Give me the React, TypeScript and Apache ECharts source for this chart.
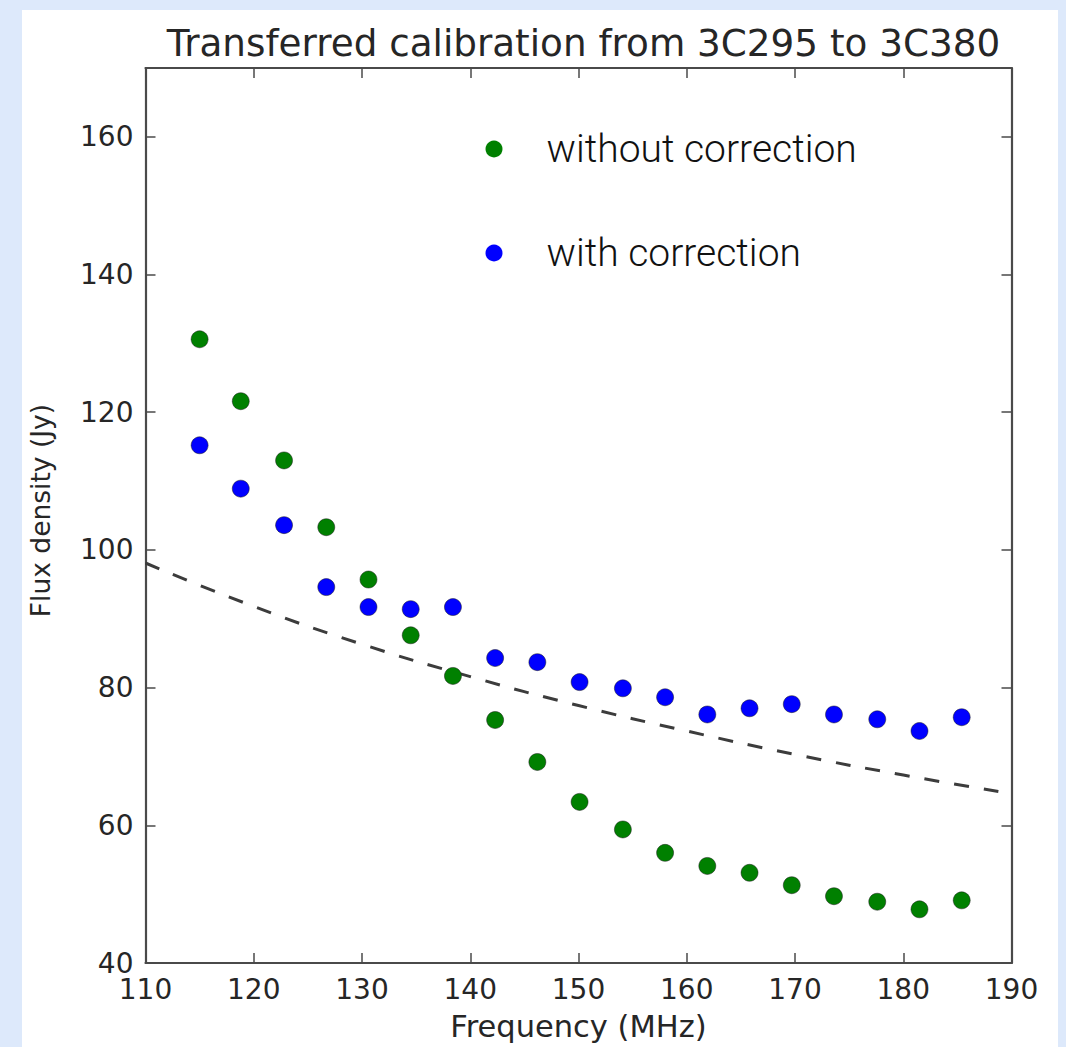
import React, { useEffect, useRef } from "react";
import * as echarts from "echarts";

const frequencies = [115.0, 118.8, 122.8, 126.7, 130.6, 134.5, 138.4, 142.3, 146.2, 150.1, 154.1, 158.0, 161.9, 165.8, 169.7, 173.6, 177.6, 181.5, 185.4];
const withoutCorrection = [130.6, 121.6, 113.0, 103.3, 95.7, 87.6, 81.7, 75.3, 69.2, 63.4, 59.4, 56.0, 54.1, 53.1, 51.3, 49.7, 48.9, 47.8, 49.1];
const withCorrection = [115.2, 108.9, 103.6, 94.6, 91.7, 91.4, 91.7, 84.3, 83.7, 80.8, 79.9, 78.6, 76.1, 77.0, 77.6, 76.1, 75.4, 73.7, 75.7];
const modelFreq = [110, 120, 130, 140, 150, 160, 170, 180, 190];
const modelFlux = [98.1, 91.8, 86.3, 81.6, 77.4, 73.7, 70.3, 67.3, 64.6];

const TITLE = "Transferred calibration from 3C295 to 3C380";
const X_NAME = "Frequency (MHz)";
const Y_NAME = "Flux density (Jy)";
const LEGEND = ["without correction", "with correction"];

const DV = "DejaVu Sans";
const AXIS_COLOR = "#4a4a4a";
const TEXT_COLOR = "#262626";

export default function App() {
  const ref = useRef<HTMLDivElement>(null);
  useEffect(() => {
    if (!ref.current) return;
    const chart = echarts.init(ref.current, null, { renderer: "svg" });
    const gridLeft = 145.5;
    const gridTop = 68;
    const gridRight = 54.5;
    const gridBottom = 84;
    const axisCommon = {
      axisLine: { show: true, lineStyle: { color: AXIS_COLOR, width: 2.2 } },
      axisTick: { show: true, inside: true, length: 10, lineStyle: { color: AXIS_COLOR, width: 1.5 } },
      splitLine: { show: false },
    };
    chart.setOption({
      animation: false,
      backgroundColor: "#dde9fb",
      graphic: [
        {
          type: "rect",
          z: -10,
          shape: { x: 22, y: 10, width: 1036, height: 1037 },
          style: { fill: "#ffffff" },
        },
      ],
      title: {
        text: TITLE,
        left: gridLeft + (1066 - gridLeft - gridRight) / 2,
        textAlign: "center",
        top: 19,
        textStyle: { fontFamily: DV, fontSize: 37.3, fontWeight: "normal", color: TEXT_COLOR },
      },
      legend: {
        orient: "vertical",
        left: 480.5,
        top: 124,
        padding: 5,
        itemWidth: 17,
        itemHeight: 17,
        itemGap: 64,
        icon: "circle",
        data: LEGEND,
        itemStyle: { borderWidth: 0 },
        textStyle: {
          fontFamily: "Roboto",
          fontWeight: 300,
          fontSize: 39,
          lineHeight: 40,
          color: "#111",
          padding: [0, 0, 0, 39],
        },
      },
      grid: { left: gridLeft, top: gridTop, right: gridRight, bottom: gridBottom, containLabel: false },
      xAxis: [
        {
          type: "value",
          min: 110,
          max: 190,
          interval: 10,
          position: "bottom",
          name: X_NAME,
          nameLocation: "middle",
          nameGap: 48,
          nameTextStyle: { fontFamily: DV, fontSize: 30.5, color: TEXT_COLOR },
          axisLabel: { fontFamily: DV, fontSize: 28, color: TEXT_COLOR, margin: 12 },
          ...axisCommon,
        },
        {
          type: "value",
          min: 110,
          max: 190,
          interval: 10,
          position: "top",
          axisLabel: { show: false },
          ...axisCommon,
        },
      ],
      yAxis: [
        {
          type: "value",
          min: 40,
          max: 170,
          interval: 20,
          position: "left",
          name: Y_NAME,
          nameLocation: "middle",
          nameGap: 92,
          nameTextStyle: { fontFamily: DV, fontSize: 26.5, color: TEXT_COLOR, padding: [0, 0, 0, 10] },
          axisLabel: { fontFamily: DV, fontSize: 28, color: TEXT_COLOR, margin: 12, showMaxLabel: false },
          ...axisCommon,
        },
        {
          type: "value",
          min: 40,
          max: 170,
          interval: 20,
          position: "right",
          axisLabel: { show: false },
          ...axisCommon,
        },
      ],
      series: [
        {
          name: "model",
          type: "line",
          data: modelFreq.map((f, i) => [f, modelFlux[i]]),
          smooth: true,
          showSymbol: false,
          symbol: "none",
          lineStyle: { color: "#3c3c3c", width: 3, type: [15, 15] },
          z: 1,
        },
        {
          name: LEGEND[0],
          type: "scatter",
          data: frequencies.map((f, i) => [f, withoutCorrection[i]]),
          symbol: "circle",
          symbolSize: 17,
          itemStyle: { color: "#008000", borderColor: "#1a1a1a", borderWidth: 0.5, opacity: 1 },
          z: 3,
        },
        {
          name: LEGEND[1],
          type: "scatter",
          data: frequencies.map((f, i) => [f, withCorrection[i]]),
          symbol: "circle",
          symbolSize: 17,
          itemStyle: { color: "#0000ff", borderColor: "#1a1a1a", borderWidth: 0.5, opacity: 1 },
          z: 3,
        },
      ],
    });
    return () => chart.dispose();
  }, []);
  return (
    <div style={{ position: "absolute", left: 0, top: 0, width: 1066, height: 1047 }}>
      <div ref={ref} style={{ width: 1066, height: 1047 }} />
    </div>
  );
}
